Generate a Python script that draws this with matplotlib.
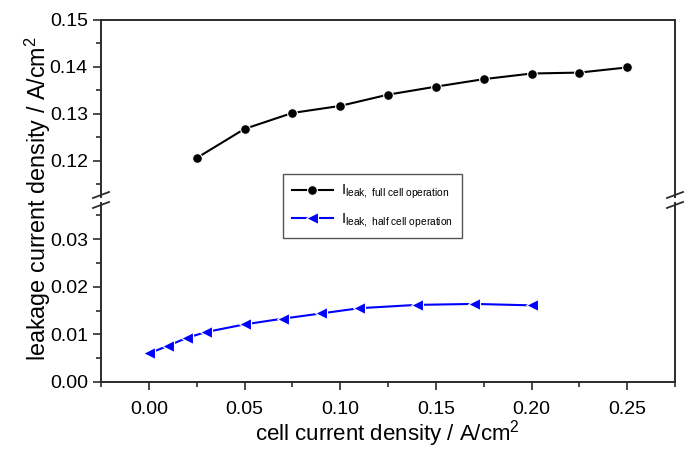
import matplotlib
matplotlib.use("Agg")
import matplotlib.pyplot as plt
from matplotlib.lines import Line2D
import numpy as np

plt.rcParams['font.family'] = ['Liberation Sans', 'DejaVu Sans']
plt.rcParams['mathtext.fontset'] = 'custom'
plt.rcParams['mathtext.rm'] = 'Liberation Sans'
plt.rcParams['mathtext.it'] = 'Liberation Sans'

# Data
full_x = [0.025, 0.05, 0.075, 0.10, 0.125, 0.15, 0.175, 0.20, 0.225, 0.25]
full_y = [0.1206, 0.1268, 0.1302, 0.1317, 0.1341, 0.1358, 0.1374, 0.1386, 0.1388, 0.1399]
half_x = [0.0, 0.01, 0.02, 0.03, 0.05, 0.07, 0.09, 0.11, 0.14, 0.17, 0.20]
half_y = [0.0060, 0.0076, 0.0093, 0.0105, 0.0121, 0.0133, 0.0144, 0.0155, 0.0162, 0.0164, 0.0161]
x_ticks = [0.00, 0.05, 0.10, 0.15, 0.20, 0.25]
upper_ticks = [0.12, 0.13, 0.14, 0.15]
lower_ticks = [0.00, 0.01, 0.02, 0.03]

W, H = 685, 450
fig = plt.figure(figsize=(W / 100, H / 100), dpi=100)

def fx(px):
    return px / W

def fy(py):
    return 1 - py / H

left, right = 101, 675
ax_top = fig.add_axes([fx(left), fy(197), fx(right) - fx(left), fy(20) - fy(197)])
ax_bot = fig.add_axes([fx(left), fy(382), fx(right) - fx(left), fy(203) - fy(382)])

spine_color = '#2b2b2b'
for ax in (ax_top, ax_bot):
    for s in ax.spines.values():
        s.set_linewidth(1.4)
        s.set_color(spine_color)
    ax.set_xlim(-0.025, 0.275)
    ax.tick_params(which='both', direction='out', color=spine_color, width=1.2,
                   labelsize=14, right=False, top=False)
    ax.tick_params(which='major', length=6)
    ax.tick_params(which='minor', length=3.5)

ax_top.spines['bottom'].set_visible(False)
ax_bot.spines['top'].set_visible(False)
ax_top.tick_params(axis='x', which='both', bottom=False, labelbottom=False)

ax_top.set_ylim(0.1123, 0.15)
ax_top.set_yticks(upper_ticks)
ax_top.set_yticks([0.115, 0.125, 0.135, 0.145], minor=True)
ax_top.set_yticklabels([f"{v:.2f}" for v in upper_ticks])

ax_bot.set_ylim(0.0, 0.0376)
ax_bot.set_yticks(lower_ticks)
ax_bot.set_yticks([0.005, 0.015, 0.025, 0.035], minor=True)
ax_bot.set_yticklabels([f"{v:.2f}" for v in lower_ticks])
ax_bot.set_xticks(x_ticks)
ax_bot.set_xticklabels([f"{v:.2f}" for v in x_ticks])
ax_bot.set_xticks([-0.025, 0.025, 0.075, 0.125, 0.175, 0.225, 0.275], minor=True)
ax_bot.tick_params(axis='x', which='major', pad=8)

ax_top.plot(full_x, full_y, color='black', lw=1.5, marker='o', ms=7,
            markeredgecolor='white', markeredgewidth=0.8, clip_on=False)
ax_bot.plot(half_x, half_y, color='#0000ff', lw=1.5, marker='<', ms=8.5,
            markeredgecolor='white', markeredgewidth=0.8, clip_on=False)

# break marks
for xp in (left, right):
    for yp in (195, 205):
        fig.add_artist(Line2D([fx(xp - 8), fx(xp + 8)], [fy(yp + 3), fy(yp - 3)],
                              color=spine_color, lw=1.3))

# labels
fig.text(fx(38), fy(198), 'leakage current density / A/cm$^2$', rotation=90,
         ha='center', va='center', fontsize=16.8)
fig.text(fx(387), fy(434), 'cell current density / A/cm$^2$', ha='center',
         va='center', fontsize=16)

# legend
h1 = Line2D([], [], color='black', lw=1.5, marker='o', ms=7,
            markeredgecolor='white', markeredgewidth=0.8)
h2 = Line2D([], [], color='#0000ff', lw=1.5, marker='<', ms=8.5,
            markeredgecolor='white', markeredgewidth=0.8)
leg = fig.legend([h1, h2],
                 [r'I$_{\mathrm{leak,\ full\ cell\ operation}}$',
                  r'I$_{\mathrm{leak,\ half\ cell\ operation}}$'],
                 loc='upper left', bbox_to_anchor=(fx(283), fy(174)),
                 borderaxespad=0, frameon=True, fancybox=False, fontsize=10.5,
                 handlelength=2.8, borderpad=0.6, labelspacing=0.7,
                 handletextpad=0.6, edgecolor=spine_color)
leg.get_frame().set_linewidth(1.0)

fig.savefig('out.png', dpi=100)
